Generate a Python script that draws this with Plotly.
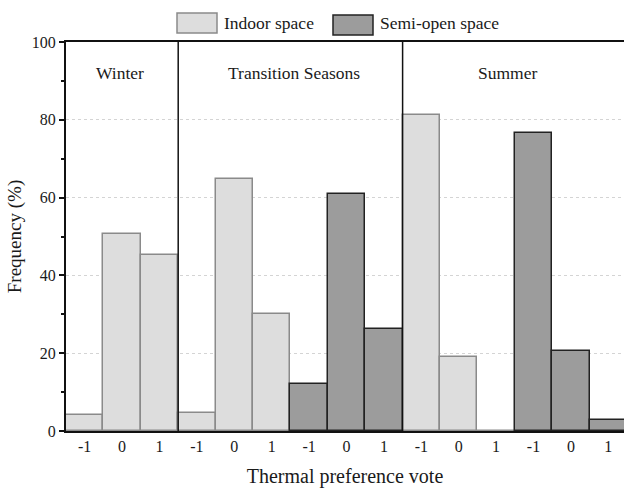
import plotly.graph_objects as go

# categories / tick labels
vote_labels = ["-1", "0", "1"] * 5
seasons = ["Winter", "Transition Seasons", "Summer"]
season_centers = [0.95, 5.6, 11.3]

# positions of bars on category axis (0..14)
indoor_pos = [0, 1, 2, 3, 4, 5, 9, 10, 11]
semi_pos = [6, 7, 8, 12, 13, 14]

# values (%)
indoor_vals = [4.0, 50.7, 45.2, 4.6, 64.9, 30.2, 81.2, 18.9, 0.0]
semi_vals = [12.1, 61.0, 26.3, 76.5, 20.6, 2.8]

FONT = "Liberation Serif"
TXT = "#1a1a1a"

fig = go.Figure()
fig.add_trace(go.Bar(
    x=indoor_pos, y=indoor_vals, width=1, name="Indoor space",
    marker=dict(color="#dddddd", line=dict(color="#8a8a8a", width=1.5)),
    showlegend=False,
))
fig.add_trace(go.Bar(
    x=semi_pos, y=semi_vals, width=1, name="Semi-open space",
    marker=dict(color="#9c9c9c", line=dict(color="#222222", width=1.5)),
    showlegend=False,
))

# season separators
for xs in [2.5, 8.5]:
    fig.add_shape(type="line", xref="x", yref="y", x0=xs, x1=xs, y0=0, y1=100,
                  line=dict(color="#111", width=1.5), layer="above")

# season labels
for name, xc in zip(seasons, season_centers):
    fig.add_annotation(x=xc, y=92, xref="x", yref="y", text=name, showarrow=False,
                       font=dict(family=FONT, size=17.5, color=TXT))

# custom legend (pixel layout converted to paper coords)
L, T, PW, PH = 66, 42, 558, 389
def px(x):
    return (x - L) / PW
def py(y):
    return (T + PH - y) / PH

leg = [("Indoor space", "#dddddd", "#8a8a8a", 177, 217, 222, 13, 33),
       ("Semi-open space", "#9c9c9c", "#222222", 333, 373, 378, 15, 35)]
for text, fc, lc, x0, x1, tx, y0, y1 in leg:
    fig.add_shape(type="rect", xref="paper", yref="paper",
                  x0=px(x0), x1=px(x1), y0=py(y1), y1=py(y0),
                  fillcolor=fc, line=dict(color=lc, width=1.5))
    fig.add_annotation(x=px(tx), y=py(23), xref="paper", yref="paper",
                       text=text, showarrow=False, xanchor="left", yanchor="middle",
                       font=dict(family=FONT, size=17.5, color=TXT))

fig.update_layout(
    width=624, height=488,
    margin=dict(l=L, r=0, t=T, b=488 - T - PH),
    plot_bgcolor="white", paper_bgcolor="white",
    bargap=0, barmode="overlay",
    font=dict(family=FONT, size=16, color=TXT),
    xaxis=dict(
        range=[-0.5, 14.42], tickmode="array", tickvals=list(range(15)), ticktext=vote_labels,
        showline=True, linecolor="#111", linewidth=2, mirror=True, ticks="",
        showgrid=False, zeroline=False, ticklabelstandoff=0,
        title=dict(text="Thermal preference vote", font=dict(family=FONT, size=20, color=TXT),
                   standoff=18),
        tickfont=dict(family=FONT, size=16, color=TXT),
    ),
    yaxis=dict(
        range=[0, 100], tickmode="array", tickvals=[0, 20, 40, 60, 80, 100],
        showline=True, linecolor="#111", linewidth=2, ticks="outside", ticklen=5,
        tickwidth=1.5, tickcolor="#111",
        minor=dict(tickvals=[10, 30, 50, 70, 90], ticks="outside", ticklen=3,
                   tickcolor="#111", showgrid=False),
        showgrid=True, gridcolor="#d4d4d4", griddash="dot", gridwidth=1,
        zeroline=False,
        title=dict(text="Frequency (%)", font=dict(family=FONT, size=19, color=TXT), standoff=5),
        tickfont=dict(family=FONT, size=16, color=TXT),
    ),
)

fig.write_html("out.html")
